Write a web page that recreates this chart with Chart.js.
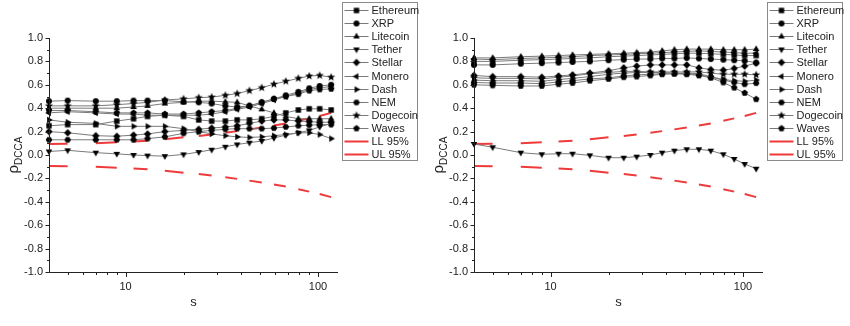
<!DOCTYPE html>
<html>
<head>
<meta charset="utf-8">
<script src="https://cdn.jsdelivr.net/npm/chart.js@4"></script>
<style>
  html, body { margin: 0; padding: 0; background: #fff; }
  #wrap { position: relative; width: 850px; height: 326px; }
  .panel { position: absolute; top: 0; width: 425px; height: 326px; }
</style>
</head>
<body>
<div id="wrap">
  <div class="panel" style="left:0"><canvas id="leftChart" width="425" height="326"></canvas></div>
  <div class="panel" style="left:425px"><canvas id="rightChart" width="425" height="326"></canvas></div>
</div>
<script>
const scaleS = [4, 5, 7, 9, 11, 13, 16, 20, 24, 28, 33, 38, 44, 51, 59, 68, 79, 90, 102, 117];
const seriesNames = ['Ethereum', 'XRP', 'Litecoin', 'Tether', 'Stellar', 'Monero', 'Dash', 'NEM', 'Dogecoin', 'Waves'];
const markerShapes = ['square', 'circle', 'triangleUp', 'triangleDown', 'diamond', 'triangleLeft', 'triangleRight', 'hexagon', 'star', 'pentagon'];
const xTickLabels = [10, 100];

// left panel
const leftEthereum = [0.25, 0.26, 0.26, 0.29, 0.31, 0.33, 0.34, 0.33, 0.30, 0.29, 0.29, 0.30, 0.30, 0.31, 0.33, 0.36, 0.385, 0.395, 0.395, 0.385];
const leftXrp = [0.46, 0.465, 0.46, 0.46, 0.465, 0.465, 0.465, 0.455, 0.45, 0.44, 0.42, 0.41, 0.42, 0.45, 0.48, 0.51, 0.54, 0.57, 0.59, 0.60];
const leftLitecoin = [0.40, 0.40, 0.40, 0.40, 0.41, 0.42, 0.44, 0.45, 0.46, 0.46, 0.455, 0.45, 0.42, 0.39, 0.36, 0.33, 0.31, 0.31, 0.31, 0.31];
const leftTether = [0.03, 0.04, 0.02, 0.01, 0.0, -0.005, -0.01, 0.005, 0.025, 0.045, 0.07, 0.09, 0.105, 0.12, 0.145, 0.17, 0.19, 0.21, 0.24, 0.27];
const leftStellar = [0.20, 0.19, 0.165, 0.16, 0.17, 0.18, 0.20, 0.21, 0.22, 0.23, 0.24, 0.25, 0.27, 0.29, 0.30, 0.30, 0.29, 0.285, 0.28, 0.28];
const leftMonero = [0.36, 0.37, 0.36, 0.35, 0.35, 0.34, 0.34, 0.34, 0.34, 0.35, 0.37, 0.39, 0.41, 0.44, 0.47, 0.50, 0.53, 0.56, 0.575, 0.585];
const leftDash = [0.30, 0.28, 0.27, 0.245, 0.245, 0.245, 0.245, 0.225, 0.20, 0.18, 0.165, 0.155, 0.15, 0.155, 0.165, 0.175, 0.19, 0.19, 0.175, 0.14];
const leftNem = [0.13, 0.13, 0.13, 0.13, 0.13, 0.14, 0.155, 0.185, 0.20, 0.21, 0.22, 0.225, 0.225, 0.225, 0.23, 0.24, 0.25, 0.255, 0.26, 0.26];
const leftDogecoin = [0.42, 0.42, 0.42, 0.43, 0.44, 0.45, 0.47, 0.48, 0.49, 0.495, 0.51, 0.525, 0.55, 0.575, 0.605, 0.63, 0.655, 0.675, 0.68, 0.665];
const leftWaves = [0.38, 0.38, 0.37, 0.36, 0.36, 0.36, 0.35, 0.35, 0.36, 0.37, 0.38, 0.40, 0.42, 0.45, 0.48, 0.50, 0.52, 0.55, 0.56, 0.565];

// right panel
const rightEthereum = [0.80, 0.80, 0.81, 0.815, 0.82, 0.825, 0.83, 0.84, 0.845, 0.85, 0.855, 0.86, 0.865, 0.87, 0.87, 0.865, 0.86, 0.855, 0.85, 0.85];
const rightXrp = [0.77, 0.77, 0.78, 0.785, 0.79, 0.795, 0.80, 0.81, 0.815, 0.82, 0.82, 0.825, 0.825, 0.83, 0.825, 0.82, 0.815, 0.81, 0.805, 0.79];
const rightLitecoin = [0.83, 0.83, 0.84, 0.845, 0.85, 0.855, 0.86, 0.865, 0.87, 0.875, 0.88, 0.89, 0.90, 0.905, 0.905, 0.905, 0.90, 0.90, 0.90, 0.905];
const rightTether = [0.094, 0.066, 0.02, 0.006, 0.011, 0.011, -0.003, -0.023, -0.023, -0.014, 0.0, 0.02, 0.037, 0.049, 0.049, 0.037, 0.006, -0.034, -0.077, -0.117];
const rightStellar = [0.68, 0.67, 0.67, 0.665, 0.675, 0.685, 0.70, 0.72, 0.745, 0.76, 0.77, 0.77, 0.77, 0.77, 0.745, 0.73, 0.725, 0.74, 0.76, 0.785];
const rightMonero = [0.82, 0.815, 0.825, 0.83, 0.835, 0.84, 0.85, 0.855, 0.86, 0.865, 0.87, 0.875, 0.88, 0.885, 0.89, 0.885, 0.88, 0.875, 0.87, 0.87];
const rightDash = [0.64, 0.635, 0.635, 0.63, 0.645, 0.655, 0.67, 0.69, 0.70, 0.705, 0.705, 0.705, 0.70, 0.70, 0.695, 0.67, 0.645, 0.635, 0.63, 0.64];
const rightNem = [0.62, 0.615, 0.615, 0.61, 0.625, 0.635, 0.65, 0.66, 0.675, 0.685, 0.69, 0.695, 0.695, 0.695, 0.685, 0.665, 0.64, 0.62, 0.605, 0.614];
const rightDogecoin = [0.66, 0.655, 0.655, 0.65, 0.665, 0.675, 0.695, 0.705, 0.715, 0.715, 0.71, 0.71, 0.71, 0.71, 0.71, 0.70, 0.69, 0.69, 0.69, 0.685];
const rightWaves = [0.60, 0.595, 0.59, 0.59, 0.605, 0.615, 0.635, 0.65, 0.665, 0.67, 0.68, 0.69, 0.695, 0.69, 0.68, 0.66, 0.62, 0.575, 0.53, 0.477];

// 95% limits (same for both panels)
const llValues = [-0.094, -0.096, -0.101, -0.108, -0.115, -0.122, -0.135, -0.152, -0.163, -0.176, -0.19, -0.204, -0.219, -0.235, -0.252, -0.27, -0.293, -0.313, -0.333, -0.36];
const ulValues = [0.094, 0.096, 0.101, 0.108, 0.115, 0.122, 0.135, 0.152, 0.163, 0.176, 0.19, 0.204, 0.219, 0.235, 0.252, 0.27, 0.293, 0.313, 0.333, 0.36];

const FONT = "'Liberation Sans', Arial, sans-serif";
const LINE_GRAY = '#7a7a7a';
const RED = '#ee3a3a';

function makeMarker(shape) {
  const c = document.createElement('canvas');
  c.width = 10;
  c.height = 10;
  const g = c.getContext('2d');
  g.fillStyle = '#000';
  g.translate(5, 5);
  g.beginPath();
  const poly = (n, r, start) => {
    for (let k = 0; k < n; k++) {
      const a = start + k * 2 * Math.PI / n;
      k === 0 ? g.moveTo(r * Math.cos(a), r * Math.sin(a)) : g.lineTo(r * Math.cos(a), r * Math.sin(a));
    }
    g.closePath();
  };
  const deg = Math.PI / 180;
  switch (shape) {
    case 'square': g.rect(-2.7, -2.7, 5.4, 5.4); break;
    case 'circle': g.arc(0, 0, 3, 0, 2 * Math.PI); break;
    case 'triangleUp': poly(3, 3.8, -90 * deg); break;
    case 'triangleDown': poly(3, 3.8, 90 * deg); break;
    case 'triangleLeft': poly(3, 3.8, 180 * deg); break;
    case 'triangleRight': poly(3, 3.8, 0); break;
    case 'diamond': poly(4, 3.7, -90 * deg); break;
    case 'hexagon': poly(6, 3.3, 0); break;
    case 'pentagon': poly(5, 3.4, -90 * deg); break;
    case 'star':
      for (let k = 0; k < 10; k++) {
        const a = -90 * deg + k * 36 * deg;
        const r = k % 2 ? 1.8 : 4.3;
        k === 0 ? g.moveTo(r * Math.cos(a), r * Math.sin(a)) : g.lineTo(r * Math.cos(a), r * Math.sin(a));
      }
      g.closePath();
      break;
  }
  g.fill();
  return c;
}

const markerImages = markerShapes.map(makeMarker);

// axis lines, tick marks, axis titles and the boxed legend
const decorPlugin = {
  id: 'decor',
  afterDraw(chart) {
    const { ctx, chartArea: a, scales: { x, y } } = chart;
    const left = Math.round(a.left) + 0.5;
    const bottom = Math.round(a.bottom) + 0.5;
    ctx.save();
    ctx.strokeStyle = '#222';
    ctx.lineWidth = 1;
    ctx.beginPath();
    ctx.moveTo(left, a.top);
    ctx.lineTo(left, bottom);
    ctx.lineTo(a.right, bottom);
    for (let v = -10; v <= 10; v++) {
      const py = Math.round(y.getPixelForValue(v / 10)) + 0.5;
      const len = v % 2 === 0 ? 4 : 2.5;
      ctx.moveTo(left, py);
      ctx.lineTo(left - len, py);
    }
    [1, 10, 100].forEach(d => {
      for (let m = 1; m <= 9; m++) {
        const v = m * d;
        if (v <= x.min || v > x.max) continue;
        const px = Math.round(x.getPixelForValue(v)) + 0.5;
        const len = m === 1 ? 4.5 : 2.5;
        ctx.moveTo(px, bottom);
        ctx.lineTo(px, bottom + len);
      }
    });
    ctx.stroke();

    // x title
    ctx.fillStyle = '#222';
    ctx.font = '13px ' + FONT;
    ctx.textAlign = 'center';
    ctx.textBaseline = 'middle';
    ctx.fillText('s', (a.left + a.right) / 2, 302);

    // y title: rho with DCCA subscript
    ctx.save();
    ctx.translate(15, (a.top + a.bottom) / 2);
    ctx.rotate(-Math.PI / 2);
    ctx.textAlign = 'left';
    ctx.textBaseline = 'alphabetic';
    ctx.font = '15px ' + FONT;
    const rhoW = ctx.measureText('ρ').width;
    ctx.font = '10px ' + FONT;
    const subW = ctx.measureText('DCCA').width;
    const startX = -(rhoW + subW) / 2;
    ctx.font = '15px ' + FONT;
    ctx.fillText('ρ', startX, 3);
    ctx.font = '10px ' + FONT;
    ctx.fillText('DCCA', startX + rhoW, 7);
    ctx.restore();

    // legend
    const boxL = Math.round(a.right) + 4.5;
    const boxT = 2.5;
    const boxW = 75;
    const boxH = 158;
    ctx.fillStyle = '#fff';
    ctx.fillRect(boxL, boxT, boxW, boxH);
    ctx.strokeStyle = '#8a8a8a';
    ctx.strokeRect(boxL, boxT, boxW, boxH);
    ctx.font = '11px ' + FONT;
    ctx.textAlign = 'left';
    ctx.textBaseline = 'middle';
    chart.data.datasets.forEach((ds, i) => {
      const cy = Math.round(10 + i * 13.1);
      ctx.strokeStyle = ds.borderColor;
      ctx.lineWidth = ds.borderWidth;
      ctx.beginPath();
      ctx.moveTo(boxL + 2, cy + 0.5);
      ctx.lineTo(boxL + 26, cy + 0.5);
      ctx.stroke();
      if (ds.pointStyle && typeof ds.pointStyle === 'object') {
        const img = ds.pointStyle;
        ctx.drawImage(img, boxL + 14 - img.width / 2, cy + 0.5 - img.height / 2);
      }
      ctx.fillStyle = '#222';
      ctx.fillText(ds.label, boxL + 29, cy + 1);
    });
    ctx.restore();
  }
};

function limitDataset(label, values) {
  return {
    label: label,
    data: scaleS.map((s, k) => ({ x: s, y: values[k] })),
    borderColor: RED,
    borderWidth: 2,
    pointRadius: 0,
    pointHoverRadius: 0,
    order: 1,
    clip: false,
    // long dashes: every other segment is drawn
    segment: { borderColor: ctx => ctx.p0DataIndex % 2 === 0 ? RED : 'rgba(0,0,0,0)' }
  };
}

function createChart(canvasId, seriesArrays) {
  const datasets = seriesNames.map((name, i) => ({
    label: name,
    data: scaleS.map((s, k) => ({ x: s, y: seriesArrays[i][k] })),
    borderColor: LINE_GRAY,
    borderWidth: 1,
    pointStyle: markerImages[i],
    pointRadius: 4,
    pointHoverRadius: 4,
    order: 0,
    clip: false
  }));
  datasets.push(limitDataset('LL 95%', llValues));
  datasets.push(limitDataset('UL 95%', ulValues));

  return new Chart(document.getElementById(canvasId), {
    type: 'line',
    data: { datasets: datasets },
    options: {
      responsive: false,
      animation: false,
      devicePixelRatio: 1,
      layout: { padding: { top: 38, right: 87, left: 0, bottom: 0 } },
      plugins: { legend: { display: false }, tooltip: { enabled: false } },
      scales: {
        x: {
          type: 'logarithmic',
          min: 4,
          max: 127,
          grid: { display: false, drawTicks: false },
          border: { display: false },
          ticks: {
            autoSkip: false,
            maxRotation: 0,
            padding: 8,
            color: '#222',
            font: { size: 11, family: FONT },
            callback: v => xTickLabels.find(t => Math.abs(t - v) < 1e-6) ? String(Math.round(v)) : ''
          },
          afterFit: s => { s.height = 54; }
        },
        y: {
          min: -1,
          max: 1,
          grid: { display: false, drawTicks: false },
          border: { display: false },
          ticks: {
            stepSize: 0.2,
            padding: 6,
            color: '#222',
            font: { size: 11, family: FONT },
            callback: v => Math.abs(v) < 1e-9 ? '0.0' : v.toFixed(1)
          },
          afterFit: s => { s.width = 49; }
        }
      }
    },
    plugins: [decorPlugin]
  });
}

createChart('leftChart', [leftEthereum, leftXrp, leftLitecoin, leftTether, leftStellar, leftMonero, leftDash, leftNem, leftDogecoin, leftWaves]);
createChart('rightChart', [rightEthereum, rightXrp, rightLitecoin, rightTether, rightStellar, rightMonero, rightDash, rightNem, rightDogecoin, rightWaves]);
</script>
</body>
</html>
